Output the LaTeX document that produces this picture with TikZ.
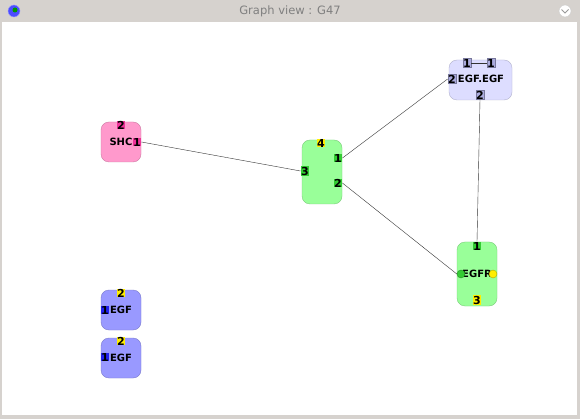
\documentclass[tikz,border=0pt]{standalone}
\usepackage{fontspec}
\setmainfont{DejaVu Sans}
\usepackage{tikz}
\usetikzlibrary{shapes,positioning,calc}
\definecolor{winbar}{HTML}{D6D2CE}
\definecolor{lavbox}{HTML}{DDDDFF}
\definecolor{lavport}{HTML}{AAAADD}
\definecolor{grbox}{HTML}{99FF99}
\definecolor{grport}{HTML}{33CC33}
\definecolor{pkbox}{HTML}{FF99CC}
\definecolor{pkport}{HTML}{EE3399}
\definecolor{blbox}{HTML}{9999FF}
\definecolor{blport}{HTML}{2222EE}
\definecolor{ylport}{HTML}{FFEE00}

\begin{document}
\begin{tikzpicture}[x=1pt,y=-1pt,
    cplx/.style={draw=#1!80!black, fill=#1, rounded corners=8pt, inner sep=0pt},
    port/.style={fill=#1, inner sep=0.4pt, font=\bfseries\fontsize{11}{11}\selectfont},
    lbl/.style={font=\bfseries\fontsize{10}{10}\selectfont, inner sep=0pt},
    link/.style={black!80, line width=0.4pt}]
        \useasboundingbox (0,0) rectangle (580,419);
        \fill[winbar] (0,0) rectangle (580,419);
        \fill[white] (2,22) rectangle (577,415);

        % window title
        \node[text=black!50, font=\fontsize{11.5}{11.5}\selectfont] (title) at (290,11) {Graph view : G47};
        \node[circle, fill=blue!70, draw=blue!40, minimum size=12pt, inner sep=0pt] (icon) at (14,11) {};
        \node[circle, fill=green!60!black, minimum size=5pt, inner sep=0pt] at (15,10) {};
        \node[circle, fill=white, draw=black!20, minimum size=12pt, inner sep=0pt] (menu) at (565,11) {};
        \draw[black!40, thick] (561.5,9.5) -- (565,13) -- (568.5,9.5);

        % complexes
        \node[cplx=lavbox, minimum width=63pt, minimum height=40pt] (egfegf) at (480.5,80) {};
        \node[cplx=grbox, minimum width=40pt, minimum height=64pt] (grn) at (322,172) {};
        \node[cplx=grbox, minimum width=40pt, minimum height=64pt] (egfr) at (477,274) {};
        \node[cplx=pkbox, minimum width=40pt, minimum height=40pt] (shc) at (121,142) {};
        \node[cplx=blbox, minimum width=40pt, minimum height=40pt] (egfa) at (121,310) {};
        \node[cplx=blbox, minimum width=40pt, minimum height=40pt] (egfb) at (121,358) {};

        \node[lbl] at (481,79) {EGF.EGF};
        \node[lbl] at (477,274) {EGFR};
        \node[lbl] at (121,142) {SHC};
        \node[lbl] at (121,310) {EGF};
        \node[lbl] at (121,358) {EGF};

        % ports
        \node[port=lavport, draw=lavport!70!black, line width=0.3pt] (ee1a) at (467,63) {1};
        \node[port=lavport, draw=lavport!70!black, line width=0.3pt] (ee1b) at (491,63) {1};
        \node[port=lavport, draw=lavport!70!black, line width=0.3pt] (ee2l) at (452,79) {2};
        \node[port=lavport, draw=lavport!70!black, line width=0.3pt] (ee2b) at (480,95) {2};

        \node[port=ylport] (g4) at (321,143) {4};
        \node[port=grport] (g1) at (338,158) {1};
        \node[port=grport] (g3) at (305,171) {3};
        \node[port=grport] (g2) at (338,183) {2};

        \node[port=grport] (r1) at (477,246) {1};
        \node[port=ylport] (r3) at (477,300) {3};
        \node[circle, fill=grport, draw=grport!70!black, minimum size=8pt, inner sep=0pt] (rl) at (461,274) {};
        \node[circle, fill=ylport, draw=ylport!70!black, minimum size=8pt, inner sep=0pt] (rr) at (493,274) {};

        \node[port=pkport] (s2) at (121,125) {2};
        \node[port=pkport] (s1) at (137,142) {1};

        \node[port=ylport] (ea2) at (121,293) {2};
        \node[port=blport] (ea1) at (105,310) {1};
        \node[port=ylport] (eb2) at (121,341) {2};
        \node[port=blport] (eb1) at (105,357) {1};

        % links
        \draw[link] (ee1a) -- (ee1b);
        \draw[link] (s1.east) -- (g3.west);
        \draw[link] (g1.east) -- (ee2l.west);
        \draw[link] (g2.east) -- (rl.west);
        \draw[link] (ee2b.south) -- (r1.north);

    \end{tikzpicture}
\end{document}
